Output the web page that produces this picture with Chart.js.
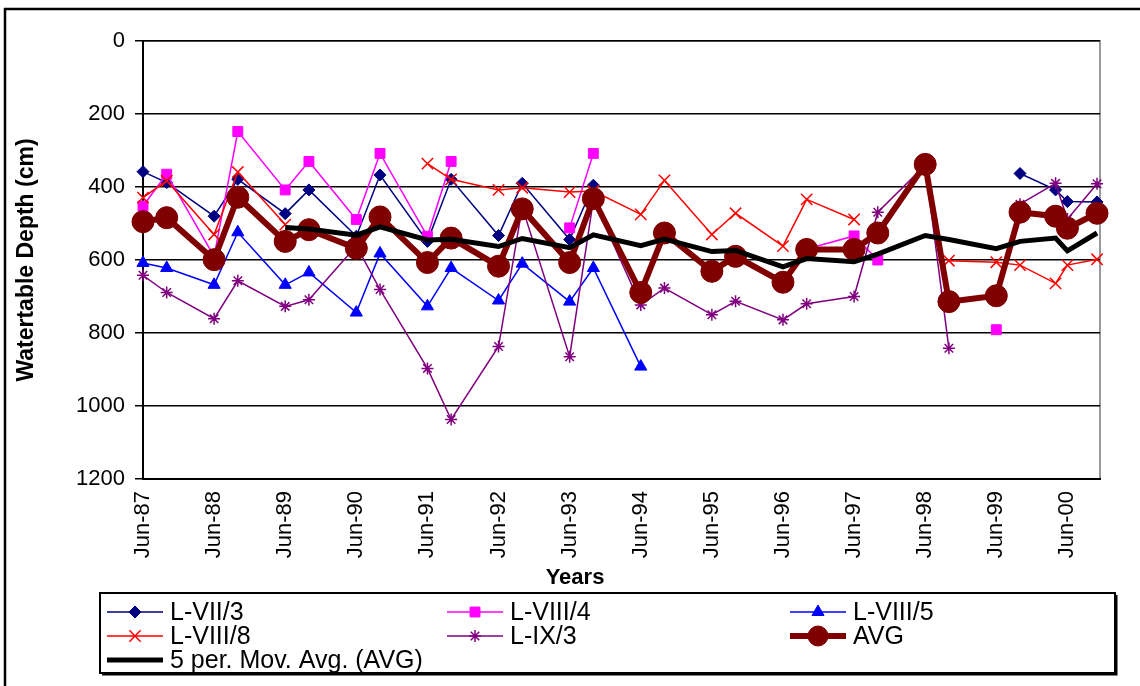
<!DOCTYPE html>
<html>
<head>
<meta charset="utf-8">
<title>Watertable Depth</title>
<script src="https://cdn.jsdelivr.net/npm/chart.js@4.4.0/dist/chart.umd.min.js"></script>
<style>
  html, body { margin: 0; padding: 0; background: #fff; }
</style>
</head>
<body>
<canvas id="chart" width="1140" height="686"></canvas>
<script>
const FONT = "'Liberation Sans', Arial, Helvetica, sans-serif";

// months counted from Jun-87 (Jun / Oct readings, last ones Apr-00, Jun-00, Nov-00)
const dates = [0, 4, 12, 16, 24, 28, 36, 40, 48, 52, 60, 64, 72, 76, 84, 88, 96, 100,
  108, 112, 120, 124, 132, 136, 144, 148, 154, 156, 161];
const tickLabels = ['Jun-87', 'Jun-88', 'Jun-89', 'Jun-90', 'Jun-91', 'Jun-92', 'Jun-93',
  'Jun-94', 'Jun-95', 'Jun-96', 'Jun-97', 'Jun-98', 'Jun-99', 'Jun-00'];

// watertable depth in cm, one value per date (null = no reading)
const lVII3 = [358, 388, 480, 379, 473, 408, 535, 367, 549, 379, 533, 390, 544, 395,
  null, null, null, null, null, null, null, null, null, null, null, 363, 408, 440, 441];
const lVIII4 = [452, 365, 590, 248, 408, 330, 489, 308, 535, 330, null, null, 512, 308,
  null, null, null, null, null, 570, 534, 600, null, null, 791, null, null, null, null];
const lVIII5 = [608, 622, 668, 524, 668, 634, 744, 582, 727, 622, 711, 610, 714, 622, 892,
  null, null, null, null, null, null, null, null, null, null, null, null, null, null];
const lVIII8 = [429, 383, 530, 359, 503, null, null, null, 336, 379, 408, 402, 414, 411,
  475, 382, 530, 472, 562, 434, 489, null, null, 602, 606, 614, 664, 614, 598];
const lIX3 = [642, 689, 761, 657, 727, 709, 561, 681, 897, 1037, 837, 455, 865, 435,
  723, 677, 750, 713, 764, 720, 700, 469, 340, 842, null, 447, 390, 488, 391];
const avg = [495, 484, 599, 428, 549, 517, 568, 482, 607, 540, 617, 460, 607, 432,
  689, 526, 631, 590, 661, 571, 571, 526, 338, 714, 698, 469, 480, 513, 472];
const avgMovAvg = [null, null, null, null, 511, 515, 532, 509, 545, 543, 563, 541, 566, 531,
  561, 543, 577, 574, 619, 596, 605, 584, 533, 544, 569, 549, 540, 575, 526];

function pts(values) {
  return dates.map((d, i) => ({ x: d, y: values[i] }));
}

// white plot area with grey frame
const plotFrame = {
  id: 'plotFrame',
  beforeDraw(chart) {
    const { ctx, chartArea: a } = chart;
    ctx.save();
    ctx.fillStyle = '#fff';
    ctx.fillRect(0, 0, chart.width, chart.height);
    ctx.strokeStyle = '#999';
    ctx.lineWidth = 2;
    ctx.strokeRect(a.left, a.top, a.right - a.left, a.bottom - a.top);
    ctx.restore();
  }
};

// outer border, x title and the boxed legend
const boxLegend = {
  id: 'boxLegend',
  afterDraw(chart) {
    const ctx = chart.ctx;
    ctx.save();
    ctx.strokeStyle = '#000';
    ctx.lineWidth = 2.5;
    ctx.strokeRect(5, 9, 1170, 720);

    ctx.fillStyle = '#000';
    ctx.font = 'bold 22px ' + FONT;
    ctx.textAlign = 'center';
    ctx.textBaseline = 'middle';
    ctx.fillText('Years', 575, 578);

    ctx.lineWidth = 2;
    ctx.strokeRect(100, 593, 1015, 80);
    ctx.beginPath();
    ctx.moveTo(102, 674.5); ctx.lineTo(1116.5, 674.5); ctx.lineTo(1116.5, 595);
    ctx.stroke();

    const cols = [107, 447, 790];
    const rows = [612, 636, 660];
    ctx.font = '25px ' + FONT;
    ctx.textAlign = 'left';
    chart.data.datasets.forEach((ds, i) => {
      const x = cols[i % 3];
      const y = rows[Math.floor(i / 3)];
      ctx.strokeStyle = ds.borderColor;
      ctx.fillStyle = ds.backgroundColor || ds.borderColor;
      ctx.lineWidth = ds.borderWidth;
      ctx.beginPath();
      ctx.moveTo(x, y); ctx.lineTo(x + 56, y);
      ctx.stroke();
      if (ds.pointRadius > 0) {
        ctx.lineWidth = ds.pointBorderWidth;
        Chart.helpers.drawPoint(ctx, {
          pointStyle: ds.pointStyle, rotation: 0,
          radius: Math.min(ds.pointRadius, 10), borderWidth: ds.pointBorderWidth
        }, x + 28, y);
      }
      ctx.fillStyle = '#000';
      ctx.fillText(ds.label, x + 63, y + 1);
    });
    ctx.restore();
  }
};

const ctx = document.getElementById('chart').getContext('2d');
new Chart(ctx, {
  type: 'line',
  data: {
    datasets: [
      { label: 'L-VII/3', data: pts(lVII3), borderColor: '#000080', backgroundColor: '#000080',
        borderWidth: 1.5, pointStyle: 'rectRot', pointRadius: 6, pointBorderWidth: 1, order: 7 },
      { label: 'L-VIII/4', data: pts(lVIII4), borderColor: '#FF00FF', backgroundColor: '#FF00FF',
        borderWidth: 1.5, pointStyle: 'rect', pointRadius: 7, pointBorderWidth: 1, order: 6 },
      { label: 'L-VIII/5', data: pts(lVIII5), borderColor: '#0000FF', backgroundColor: '#0000FF',
        borderWidth: 1.5, pointStyle: 'triangle', pointRadius: 7, pointBorderWidth: 1, order: 5 },
      { label: 'L-VIII/8', data: pts(lVIII8), borderColor: '#FF0000', backgroundColor: '#FF0000',
        borderWidth: 1.5, pointStyle: 'crossRot', pointRadius: 8, pointBorderWidth: 1.5, order: 4 },
      { label: 'L-IX/3', data: pts(lIX3), borderColor: '#800080', backgroundColor: '#800080',
        borderWidth: 1.5, pointStyle: 'star', pointRadius: 6, pointBorderWidth: 1.5, order: 3 },
      { label: 'AVG', data: pts(avg), borderColor: '#800000', backgroundColor: '#800000',
        borderWidth: 6, pointStyle: 'circle', pointRadius: 11, pointBorderWidth: 1, order: 2 },
      { label: '5 per. Mov. Avg. (AVG)', data: pts(avgMovAvg), borderColor: '#000000',
        backgroundColor: '#000000', borderWidth: 5, pointRadius: 0, order: 1 }
    ]
  },
  options: {
    responsive: false,
    animation: false,
    spanGaps: false,
    layout: { padding: { top: 41, right: 40, bottom: 95, left: 0 } },
    elements: { line: { tension: 0 } },
    datasets: { line: { clip: false } },
    plugins: { legend: { display: false }, tooltip: { enabled: false } },
    scales: {
      x: {
        type: 'linear', min: 0, max: 161.5,
        afterBuildTicks: (s) => { s.ticks = tickLabels.map((t, i) => ({ value: i * 12 })); },
        afterFit: (s) => { s.height = 112; },
        ticks: {
          callback: (v, i) => tickLabels[i],
          autoSkip: false, maxRotation: 90, minRotation: 90, padding: 12,
          color: '#000', font: { family: FONT, size: 22 }
        },
        grid: { display: false, drawTicks: false },
        border: { display: true, color: '#000', width: 2 }
      },
      y: {
        reverse: true, min: 0, max: 1200,
        afterFit: (s) => { s.width = 143; },
        ticks: {
          stepSize: 200, padding: 10, color: '#000', font: { family: FONT, size: 22 },
          callback: (v) => String(v)
        },
        grid: { color: '#000', lineWidth: 1.5, tickLength: 8 },
        border: { color: '#000', width: 2 },
        title: {
          display: true, text: 'Watertable Depth (cm)', color: '#000',
          font: { family: FONT, size: 23, weight: 'bold' }, padding: { top: 13, bottom: 0 }
        }
      }
    }
  },
  plugins: [plotFrame, boxLegend]
});
</script>
</body>
</html>
